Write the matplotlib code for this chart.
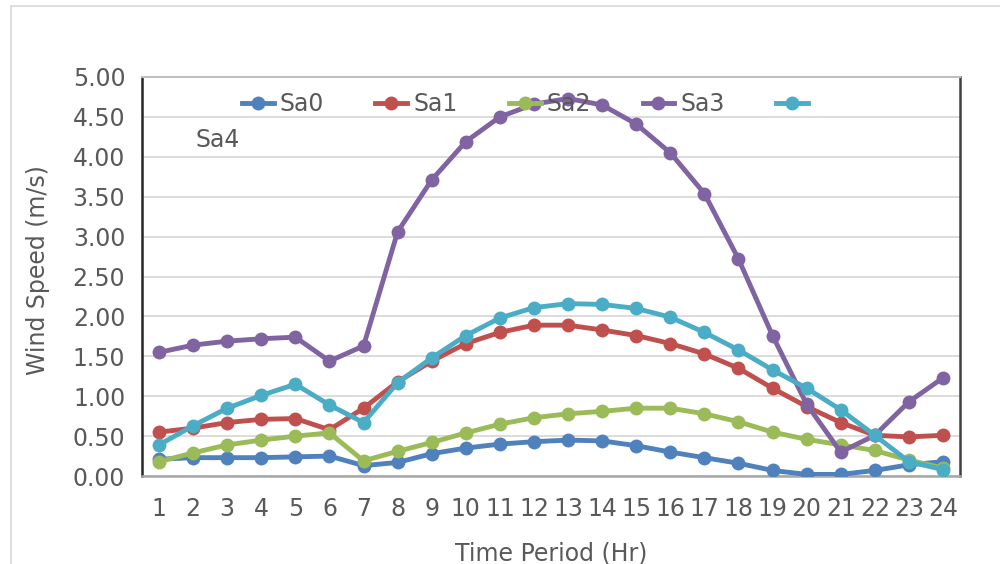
import matplotlib
matplotlib.use("Agg")
import matplotlib.pyplot as plt
from matplotlib.lines import Line2D
from matplotlib.patches import Rectangle

plt.rcParams['font.family'] = ['DejaVu Sans']

hours = list(range(1, 25))
hour_labels = [str(h) for h in hours]
y_ticks = [0.0, 0.5, 1.0, 1.5, 2.0, 2.5, 3.0, 3.5, 4.0, 4.5, 5.0]

sa0 = [0.21, 0.23, 0.23, 0.23, 0.24, 0.25, 0.13, 0.17, 0.28, 0.35, 0.40, 0.43,
       0.45, 0.44, 0.38, 0.30, 0.23, 0.16, 0.07, 0.02, 0.02, 0.07, 0.14, 0.18]
sa1 = [0.55, 0.60, 0.67, 0.71, 0.72, 0.58, 0.85, 1.18, 1.44, 1.66, 1.80, 1.89,
       1.89, 1.83, 1.76, 1.66, 1.53, 1.35, 1.10, 0.87, 0.67, 0.51, 0.49, 0.51]
sa2 = [0.18, 0.29, 0.39, 0.45, 0.50, 0.54, 0.19, 0.31, 0.42, 0.54, 0.65, 0.73,
       0.78, 0.81, 0.85, 0.85, 0.78, 0.68, 0.55, 0.46, 0.39, 0.32, 0.20, 0.10]
sa3 = [1.55, 1.64, 1.69, 1.72, 1.74, 1.44, 1.63, 3.06, 3.71, 4.19, 4.50, 4.66,
       4.73, 4.65, 4.41, 4.05, 3.54, 2.72, 1.76, 0.90, 0.30, 0.51, 0.93, 1.23]
sa4 = [0.39, 0.63, 0.85, 1.01, 1.15, 0.89, 0.67, 1.17, 1.48, 1.76, 1.98, 2.11,
       2.16, 2.15, 2.10, 1.99, 1.80, 1.58, 1.33, 1.10, 0.83, 0.51, 0.18, 0.08]

series_names = ['Sa0', 'Sa1', 'Sa2', 'Sa3', 'Sa4']
series_values = [sa0, sa1, sa2, sa3, sa4]
series_colors = ['#4f81bd', '#c0504d', '#9bbb59', '#8064a2', '#4bacc6']

text_color = '#595959'
fs = 17

fig = plt.figure(figsize=(10, 5.64), dpi=100)
# outer chart frame
fig.patches.append(Rectangle((11 / 1000, -0.1), 1.2, 1 - 6 / 564 + 0.1,
                             transform=fig.transFigure, fill=False,
                             edgecolor='#d9d9d9', linewidth=1.2))

ax = fig.add_axes([0.142, 0.156, 0.818, 0.7075])

for name, vals, col in zip(series_names, series_values, series_colors):
    ax.plot(hours, vals, color=col, linewidth=3.5, marker='o',
            markersize=10, markeredgewidth=0, label=name, zorder=3)

ax.set_xlim(0.5, 24.5)
ax.set_ylim(0, 5.0)
ax.set_yticks(y_ticks)
ax.set_yticklabels([f'{v:.2f}' for v in y_ticks])
ax.set_xticks(hours)
ax.set_xticklabels(hour_labels)
ax.tick_params(axis='both', length=0, labelsize=fs, colors=text_color)
ax.tick_params(axis='x', pad=15)
ax.tick_params(axis='y', pad=12)
ax.grid(axis='y', color='#d9d9d9', linewidth=1.3, zorder=0)
ax.set_axisbelow(True)

ax.spines['left'].set_color('#262626')
ax.spines['left'].set_linewidth(1.8)
ax.spines['right'].set_color('#404040')
ax.spines['right'].set_linewidth(1.8)
ax.spines['top'].set_color('#bfbfbf')
ax.spines['top'].set_linewidth(1.5)
ax.spines['bottom'].set_color('#a6a6a6')
ax.spines['bottom'].set_linewidth(1.8)

ax.set_ylabel('Wind Speed (m/s)', fontsize=fs, color=text_color)
ax.yaxis.set_label_coords(-0.1125, 0.516)
ax.set_xlabel('Time Period (Hr)', fontsize=fs, color=text_color, labelpad=15)

# legend: last entry's text wraps onto a second row
handles = [Line2D([0], [0], color=c, linewidth=3.5, marker='o', markersize=10,
                  markeredgewidth=0) for c in series_colors]
labels = series_names[:4] + ['']
ax.legend(handles, labels, loc='center left', bbox_to_anchor=(0.122, 0.932),
          ncol=5, frameon=False, fontsize=fs, handlelength=1.35,
          handletextpad=0.25, columnspacing=2.18, borderpad=0,
          borderaxespad=0, labelcolor=text_color)
ax.text(0.065, 0.842, series_names[4], transform=ax.transAxes, fontsize=fs,
        color=text_color, va='center', ha='left')

fig.savefig('out.png', dpi=100)
